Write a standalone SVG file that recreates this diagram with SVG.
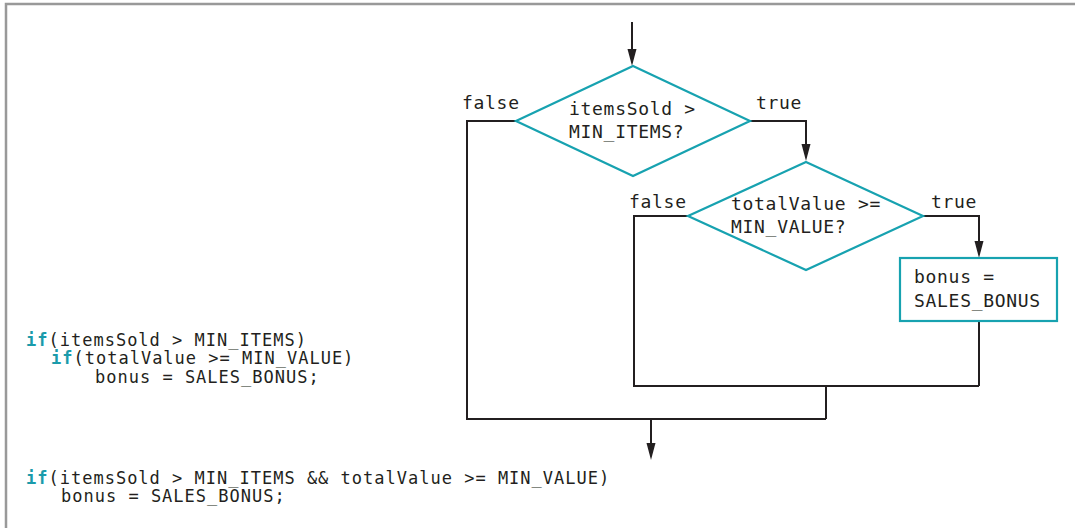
<svg xmlns="http://www.w3.org/2000/svg" width="1075" height="528" viewBox="0 0 1075 528">
<defs>
<style>
.t{font-family:"DejaVu Sans Mono","Liberation Mono",monospace;font-size:18px;fill:#231f20}
.c{font-size:17px;letter-spacing:1px}
.d{letter-spacing:0.7px}
.k{fill:#1a9bab;font-weight:bold}
.shape{fill:#fff;stroke:#17a2b0;stroke-width:2.2}
.ln{fill:none;stroke:#231f20;stroke-width:2}
.ah{fill:#231f20}
.frame{fill:none;stroke:#999;stroke-width:2.5}
</style>
</defs>
<rect width="1075" height="528" fill="#fff"/>
<path class="frame" d="M6,528 L6,4 L1075,4"/>

<g id="connectors">
<path class="ln" d="M632,22 L632,52"/>
<polygon class="ah" points="627.5,49 636.5,49 632,66"/>
<path class="ln" d="M516,121 L467,121 L467,419 L826,419"/>
<path class="ln" d="M750,121 L806,121 L806,147"/>
<polygon class="ah" points="801.5,144 810.5,144 806,161"/>
<path class="ln" d="M688,216 L634,216 L634,386 L979,386"/>
<path class="ln" d="M923,216 L979,216 L979,244"/>
<polygon class="ah" points="974.5,241 983.5,241 979,258"/>
<path class="ln" d="M979,321 L979,386"/>
<path class="ln" d="M826,386 L826,419"/>
<path class="ln" d="M651,419 L651,446"/>
<polygon class="ah" points="646.5,443 655.5,443 651,460"/>
</g>

<g id="labels">
<text class="t d" x="462" y="109">false</text>
<text class="t d" x="756" y="109">true</text>
<text class="t d" x="629" y="208">false</text>
<text class="t d" x="931" y="208">true</text>
</g>

<g id="decision1">
<polygon class="shape" points="633,66 750,121 633,176 516,121"/>
<text class="t d" x="569" y="115">itemsSold &gt;<tspan x="569" dy="23">MIN_ITEMS?</tspan></text>
</g>

<g id="decision2">
<polygon class="shape" points="806,162 923,216 806,270 688,216"/>
<text class="t d" x="731" y="210">totalValue &gt;=<tspan x="731" dy="23">MIN_VALUE?</tspan></text>
</g>

<g id="action">
<rect class="shape" x="900" y="258" width="157" height="63"/>
<text class="t d" x="914" y="283">bonus =<tspan x="914" dy="24">SALES_BONUS</tspan></text>
</g>

<g id="code1">
<text class="t c" x="26" y="345.5"><tspan class="k">if</tspan>(itemsSold &gt; MIN_ITEMS)<tspan x="51" dy="18.5" class="k">if</tspan>(totalValue &gt;= MIN_VALUE)<tspan x="95" dy="18.5">bonus = SALES_BONUS;</tspan></text>
</g>

<g id="code2">
<text class="t c" x="26" y="483.5"><tspan class="k">if</tspan>(itemsSold &gt; MIN_ITEMS &amp;&amp; totalValue &gt;= MIN_VALUE)<tspan x="61" dy="18.5">bonus = SALES_BONUS;</tspan></text>
</g>
</svg>
